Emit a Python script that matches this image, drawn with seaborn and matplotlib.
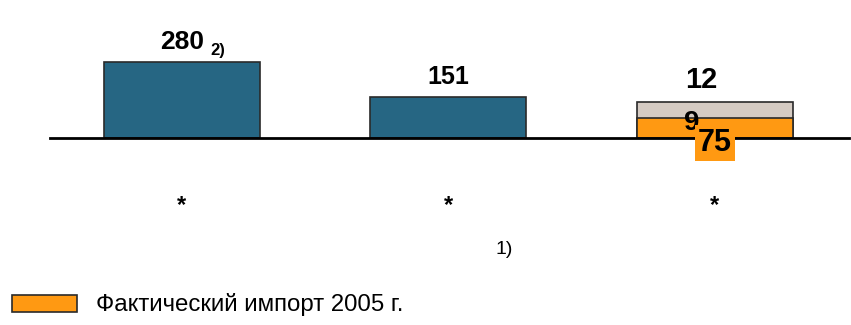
import matplotlib
matplotlib.use("Agg")
import matplotlib.pyplot as plt
import seaborn as sns
import pandas as pd
from matplotlib.patches import Patch

# Data
categories = ["A", "B", "C"]
totals = [280, 151, 131]
actual_2005 = [0, 0, 75]
value_labels = ["280", "151", "12"]
label_sizes = [19, 18, 21]
label_dx = [0, 0, -10]
actual_label = "75"
inner_label = "9"
tick_labels = ["*", "*", "*"]
legend_label = "Фактический импорт 2005 г."

TEAL = "#266683"
ORANGE = "#FF9912"
GREY = "#D5CBC3"
EDGE = "#2a2a2a"

sns.set_theme(style="white")
plt.rcParams["font.family"] = ["Liberation Sans", "DejaVu Sans"]
plt.rcParams["text.color"] = "black"
plt.rcParams["xtick.color"] = "black"

fig = plt.figure(figsize=(8.51, 3.25), dpi=100)
ax = fig.add_axes([50 / 851, (325 - 138) / 325, 799 / 851, 138 / 325])

df = pd.DataFrame({"cat": categories, "total": totals, "actual": actual_2005})

sns.barplot(data=df, x="cat", y="total", hue="cat",
            palette=[TEAL, TEAL, GREY], width=0.585, legend=False,
            edgecolor=EDGE, linewidth=1.2, saturation=1, ax=ax)
sns.barplot(data=df, x="cat", y="actual", color=ORANGE, width=0.585,
            edgecolor=EDGE, linewidth=1.2, saturation=1, ax=ax)

ax.set_xlim(-0.495, 2.503)
ax.set_ylim(0, 138 / 76 * 280)
ax.set_xlabel("")
ax.set_ylabel("")
ax.set_yticks([])
for s in ["top", "right", "left"]:
    ax.spines[s].set_visible(False)
ax.spines["bottom"].set_color("black")
ax.spines["bottom"].set_linewidth(2)
ax.spines["bottom"].set_zorder(5)

ax.set_xticks(range(len(categories)))
ax.set_xticklabels(tick_labels, fontsize=17, fontweight="bold", color="black")
ax.tick_params(axis="x", length=0, pad=40)

# value labels above bars
for i, (t, lab, fs, dx) in enumerate(zip(totals, value_labels, label_sizes, label_dx)):
    ax.annotate(lab, (i, t), xytext=(dx, 6), textcoords="offset points",
                ha="center", va="bottom", fontsize=fs, fontweight="bold",
                annotation_clip=False)
ax.annotate("2)", (0, totals[0]), xytext=(26, 3), textcoords="offset points",
            ha="center", va="bottom", fontsize=12, fontweight="bold",
            annotation_clip=False)

# inner label of the stacked bar, partly covered by the highlighted value
ax.annotate(inner_label, (2, actual_2005[2]), xytext=(-17, -4),
            textcoords="offset points", ha="center", va="center",
            fontsize=20, fontweight="bold", zorder=6)
ax.annotate(actual_label, (2, actual_2005[2]), xytext=(0, -18),
            textcoords="offset points", ha="center", va="center",
            fontsize=22, fontweight="bold", zorder=7, annotation_clip=False,
            bbox=dict(boxstyle="square,pad=0.1", fc=ORANGE, ec="none"))

fig.text(504 / 851, 1 - 249 / 325, "1)", ha="center", va="center", fontsize=14)

handle = Patch(facecolor=ORANGE, edgecolor=EDGE, linewidth=1.2)
fig.legend([handle], [legend_label], loc="center left",
           bbox_to_anchor=(12 / 851, 1 - 305 / 325), frameon=False,
           fontsize=17.3, handlelength=2.7, handleheight=0.71,
           handletextpad=0.8, borderaxespad=0, borderpad=0)

fig.savefig("out.png", dpi=100)
